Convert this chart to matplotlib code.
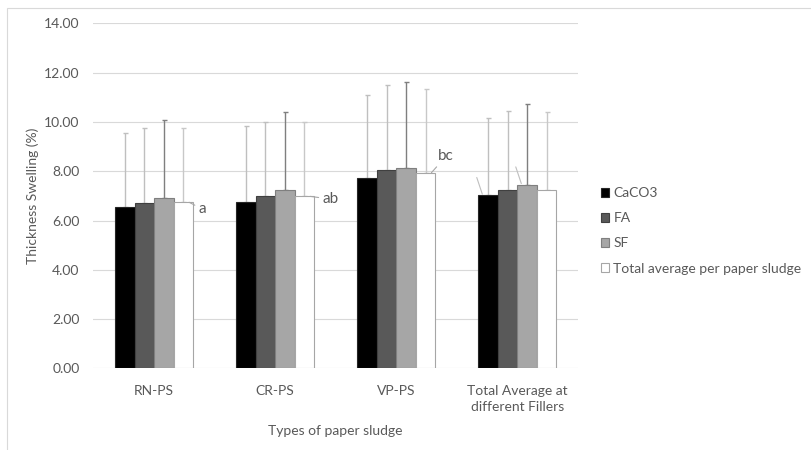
import numpy as np
import matplotlib.pyplot as plt
from matplotlib.patches import Rectangle

# Hinchamiento por espesor (%) según tipo de lodo de papel y carga
categorias = ["RN-PS", "CR-PS", "VP-PS", "Total Average at\ndifferent Fillers"]
series = ["CaCO3", "FA", "SF", "Total average per paper sludge"]

caco3 = [6.55, 6.77, 7.72, 7.02]
fa = [6.71, 6.98, 8.04, 7.22]
sf = [6.91, 7.25, 8.15, 7.45]
total = [6.74, 6.98, 7.94, 7.22]

err_caco3 = [2.99, 3.07, 3.38, 3.13]
err_fa = [3.06, 3.01, 3.45, 3.21]
err_sf = [3.18, 3.14, 3.46, 3.27]
err_total = [3.02, 3.03, 3.40, 3.19]

letras = ["a", "ab", "bc"]

valores = [caco3, fa, sf, total]
errores = [err_caco3, err_fa, err_sf, err_total]
rellenos = ["#000000", "#595959", "#a6a6a6", "#ffffff"]
bordes = ["#262626", "#404040", "#7f7f7f", "#a6a6a6"]
color_err = ["#bfbfbf", "#bfbfbf", "#7f7f7f", "#c8c8c8"]

plt.rcParams['font.family'] = ['Lato', 'DejaVu Sans']
gris = "#595959"

fig = plt.figure(figsize=(8.12, 4.5), dpi=100)
ax = fig.add_axes([0.1151, 0.1816, 0.5967, 0.7662])

# marco exterior del gráfico
fig.patches.append(Rectangle((7 / 812, -0.1), 1.1, 1 - 8 / 450 + 0.1,
                             transform=fig.transFigure, fill=False,
                             edgecolor="#d9d9d9", linewidth=0.8))

x = np.arange(len(categorias))
ancho = 0.161
for i, (v, e) in enumerate(zip(valores, errores)):
    pos = x + (i - 1.5) * ancho
    ax.bar(pos, v, ancho, color=rellenos[i], edgecolor=bordes[i], linewidth=0.8,
           label=series[i], zorder=3,
           yerr=[np.zeros(len(e)), e],
           error_kw=dict(ecolor=color_err[i], elinewidth=1.0, capsize=1.8,
                         capthick=1.0, zorder=2))

# letras de significancia junto a la barra del promedio total
pos_total = x + 1.5 * ancho
desplazamientos = [(7, -5), (9, -2), (5, 12)]
for j, letra in enumerate(letras):
    ax.annotate(letra, xy=(pos_total[j] + ancho * 0.3, total[j]),
                xytext=desplazamientos[j], textcoords="offset points",
                fontsize=11, color=gris, va="center", ha="left",
                arrowprops=dict(arrowstyle="-", color="#a6a6a6", lw=0.8,
                                shrinkA=1, shrinkB=0))

# guías vacías en el grupo del promedio general
k = len(categorias) - 1
for i in (0, 2):
    ax.annotate("", xy=(x[k] + (i - 1.5) * ancho - ancho * 0.3, valores[i][k] + 0.05),
                xytext=(-4, 12), textcoords="offset points",
                arrowprops=dict(arrowstyle="-", color="#bfbfbf", lw=0.8,
                                shrinkA=0, shrinkB=0))

ax.set_xlim(-0.5, len(categorias) - 0.5)
ax.set_ylim(0, 14)
ax.set_yticks(np.arange(0, 14.01, 2))
ax.set_yticklabels([f"{t:.2f}" for t in np.arange(0, 14.01, 2)])
ax.set_xticks(x)
ax.set_xticklabels(categorias, linespacing=1.45)
ax.tick_params(axis="both", length=0, labelsize=10, colors=gris, pad=10)
ax.tick_params(axis="x", pad=12)
ax.grid(axis="y", color="#d9d9d9", linewidth=0.8, zorder=0)
ax.set_axisbelow(True)
for lado in ax.spines.values():
    lado.set_visible(False)

ax.set_xlabel("Types of paper sludge", fontsize=10, color=gris, labelpad=8)
ax.set_ylabel("Thickness Swelling (%)", fontsize=10, color=gris, labelpad=4)

leyenda = ax.legend(loc="center left", bbox_to_anchor=(0.733, 0.487),
                    bbox_transform=fig.transFigure, frameon=False,
                    fontsize=10, labelcolor=gris, handlelength=0.6,
                    handleheight=0.6, handletextpad=0.3, labelspacing=0.95,
                    borderaxespad=0)

fig.savefig("out.png", dpi=100)
